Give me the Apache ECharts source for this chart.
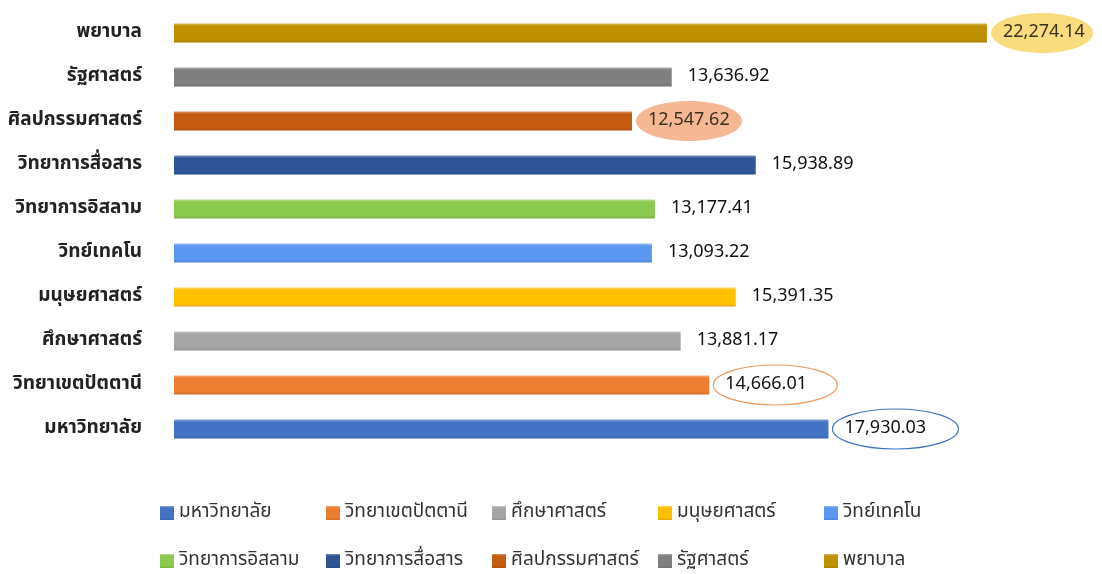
<!DOCTYPE html>
<html>
<head>
<meta charset="utf-8">
<script src="https://cdn.jsdelivr.net/npm/echarts@6/dist/echarts.min.js"></script>
<style>
html,body{margin:0;padding:0;background:#fff;}
#chart{width:1102px;height:574px;}
</style>
</head>
<body>
<div id="chart"></div>
<script>
// Data (bottom to top on the chart, same as legend order)
const categories = ['มหาวิทยาลัย','วิทยาเขตปัตตานี','ศึกษาศาสตร์','มนุษยศาสตร์','วิทย์เทคโน','วิทยาการอิสลาม','วิทยาการสื่อสาร','ศิลปกรรมศาสตร์','รัฐศาสตร์','พยาบาล'];
const values = [17930.03, 14666.01, 13881.17, 15391.35, 13093.22, 13177.41, 15938.89, 12547.62, 13636.92, 22274.14];
const highlighted = ['มหาวิทยาลัย','วิทยาเขตปัตตานี','ศิลปกรรมศาสตร์','พยาบาล'];

const colors = ['#4472C4','#ED7D31','#A5A5A5','#FFC000','#5B97F0','#8CC94F','#2F5597','#C55A11','#7F7F7F','#BF9000'];
const ellipseStyle = {
  'มหาวิทยาลัย': {fill:'#ffffff', stroke:'#4472C4', rx:63},
  'วิทยาเขตปัตตานี': {fill:'#ffffff', stroke:'#ED9A60', rx:62},
  'ศิลปกรรมศาสตร์': {fill:'#F6B894', stroke:null, rx:53},
  'พยาบาล': {fill:'#F9DC7E', stroke:null, rx:51}
};
const FONT = "Tahoma, 'Noto Sans Thai', 'Noto Sans', 'DejaVu Sans', sans-serif";

function shade(hex, f){
  const n = parseInt(hex.slice(1),16);
  let r=(n>>16)&255,g=(n>>8)&255,b=n&255;
  const t = f<0?0:255, p=Math.abs(f);
  r=Math.round((t-r)*p+r); g=Math.round((t-g)*p+g); b=Math.round((t-b)*p+b);
  return 'rgb('+r+','+g+','+b+')';
}
const fmt = v => v.toLocaleString('en-US',{minimumFractionDigits:2,maximumFractionDigits:2});

const barSeries = categories.map((name,i)=>({
  name: name,
  type: 'bar',
  stack: 'all',
  z: 3,
  barWidth: 19,
  data: categories.map((c,j)=> j===i ? values[j] : '-'),
  itemStyle: {
    color: {type:'linear',x:0,y:0,x2:0,y2:1,colorStops:[
      {offset:0,color:shade(colors[i],0.35)},
      {offset:0.14,color:colors[i]},
      {offset:0.85,color:colors[i]},
      {offset:1,color:shade(colors[i],-0.12)}
    ]}
  },
  label: {
    show: true,
    position: 'right',
    distance: 16,
    formatter: p => fmt(p.value),
    fontFamily: FONT,
    fontSize: 18,
    color: highlighted.includes(name) && ellipseStyle[name].stroke===null ? '#3a3020' : '#111'
  }
}));

const ellipseData = categories.map((c,i)=>[values[i], i]).filter(d=>ellipseStyle[categories[d[1]]]);

const ellipseSeries = {
  type: 'custom',
  name: 'ellipses',
  z: 1,
  silent: true,
  encode: {x:0, y:1},
  data: ellipseData,
  renderItem: (params, api) => {
    const idx = api.value(1);
    const st = ellipseStyle[categories[idx]];
    const pt = api.coord([api.value(0), idx]);
    return {
      type: 'ellipse',
      shape: {cx: pt[0] + 4 + st.rx, cy: pt[1], rx: st.rx, ry: 20},
      style: {fill: st.fill, stroke: st.stroke || 'none', lineWidth: 1.2}
    };
  }
};

const chart = echarts.init(document.getElementById('chart'));
chart.setOption({
  backgroundColor: '#ffffff',
  animation: false,
  color: colors,
  grid: {left: 174, right: 15.5, top: 11, bottom: 123, containLabel: false},
  xAxis: {type:'value', min:0, max:25000, show:false},
  yAxis: {
    type:'category', data: categories,
    axisLine:{show:false}, axisTick:{show:false}, splitLine:{show:false},
    axisLabel:{margin:32, fontFamily:FONT, fontSize:19, fontWeight:'bold', color:'#222'}
  },
  legend: {
    data: categories,
    left: 155, top: 489, width: 825,
    itemWidth: 14, itemHeight: 14, itemGap: 10,
    icon: 'rect',
    textStyle: {fontFamily:FONT, fontSize:19, color:'#333', width:137, height:38, lineHeight:38, overflow:'none'}
  },
  series: [ellipseSeries].concat(barSeries)
});
</script>
</body>
</html>
